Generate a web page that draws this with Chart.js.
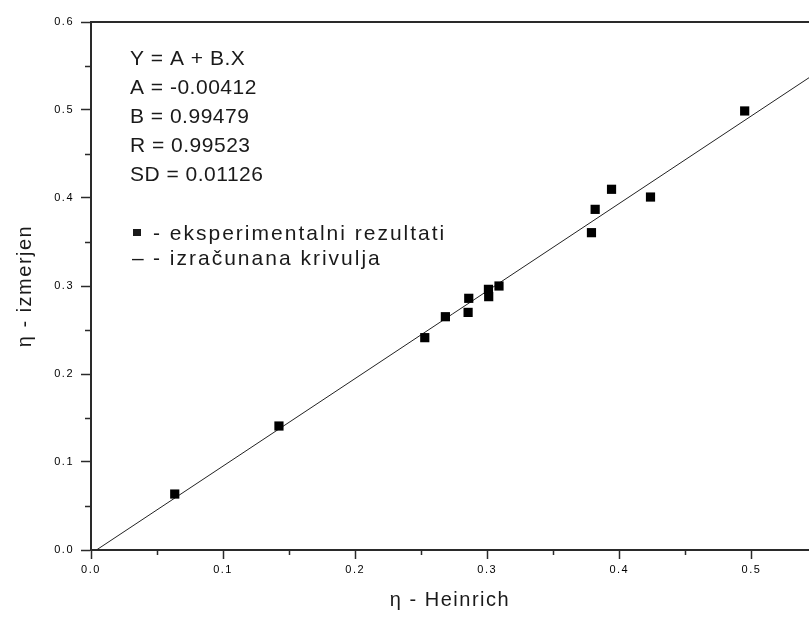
<!DOCTYPE html>
<html>
<head>
<meta charset="utf-8">
<script src="https://cdn.jsdelivr.net/npm/chart.js@4.4.1/dist/chart.umd.min.js"></script>
<style>
  body { margin: 0; background: #fff; }
  canvas { display: block; }
</style>
</head>
<body>
<canvas id="eta_graph" width="809" height="619"></canvas>
<script>
// measured points (eta Heinrich vs eta izmerjen)
var expX = [0.0634, 0.1423, 0.2527, 0.2683, 0.2855, 0.2860, 0.3009, 0.3011, 0.3089, 0.3789, 0.3817, 0.3941, 0.4236, 0.4949];
var expY = [0.0636, 0.1409, 0.2413, 0.2651, 0.2700, 0.2860, 0.2962, 0.2879, 0.3000, 0.3606, 0.3871, 0.4099, 0.4011, 0.4989];

// fitted line end points
var fitX = [0.0041, 0.5436];
var fitY = [0.0, 0.5367];

var xTicks = [0.0, 0.1, 0.2, 0.3, 0.4, 0.5];
var yTicks = [0.0, 0.1, 0.2, 0.3, 0.4, 0.5, 0.6];
var xMinor = [0.05, 0.15, 0.25, 0.35, 0.45];
var yMinor = [0.05, 0.15, 0.25, 0.35, 0.45, 0.55];

var fitText = ['Y = A + B.X', 'A = -0.00412', 'B = 0.99479', 'R = 0.99523', 'SD = 0.01126'];
var legendText = ['- eksperimentalni rezultati', '- izračunana krivulja'];

var axisColor = '#2a2a2a';
var tickFont = { family: 'Liberation Sans', size: 11 };
var titleFont = { family: 'Liberation Sans', size: 20 };

var expPoints = [];
for (var i in expX) {
  expPoints.push({ x: expX[i], y: expY[i] });
}
var fitPoints = [];
for (var j in fitX) {
  fitPoints.push({ x: fitX[j], y: fitY[j] });
}

// top frame line, minor ticks and the fit text box
var extras = {
  id: 'extras',
  beforeDraw: function(chart) {
    chart.ctx.letterSpacing = '1.5px';
  },
  afterDraw: function(chart) {
    var ctx = chart.ctx;
    var area = chart.chartArea;
    var xs = chart.scales.x;
    var ys = chart.scales.y;
    ctx.save();
    ctx.strokeStyle = axisColor;
    ctx.lineWidth = 2;
    ctx.beginPath();
    ctx.moveTo(area.left, area.top);
    ctx.lineTo(area.right, area.top);
    ctx.stroke();

    ctx.lineWidth = 1.5;
    ctx.beginPath();
    xMinor.forEach(function(v) {
      var px = Math.round(xs.getPixelForValue(v)) + 0.5;
      ctx.moveTo(px, area.bottom);
      ctx.lineTo(px, area.bottom + 5);
    });
    yMinor.forEach(function(v) {
      var py = Math.round(ys.getPixelForValue(v)) + 0.5;
      ctx.moveTo(area.left, py);
      ctx.lineTo(area.left - 6, py);
    });
    ctx.stroke();

    ctx.fillStyle = '#1a1a1a';
    ctx.font = '21px "Liberation Sans"';
    ctx.textBaseline = 'alphabetic';
    ctx.textAlign = 'left';
    ctx.letterSpacing = '0.5px';
    for (var k = 0; k < fitText.length; k++) {
      ctx.fillText(fitText[k], 130, 65 + k * 29);
    }
    ctx.fillRect(133, 229, 8, 7);
    ctx.fillText('–', 132, 265);
    ctx.letterSpacing = '2px';
    ctx.fillText(legendText[0], 153, 240);
    ctx.fillText(legendText[1], 153, 265);
    ctx.restore();
    ctx.letterSpacing = '0px';
  }
};

var ctx = document.getElementById('eta_graph');

var etaGraph = new Chart(ctx, {
  type: 'scatter',
  data: {
    datasets: [
      {
        label: 'eksperimentalni rezultati',
        data: expPoints,
        pointStyle: 'rect',
        pointRadius: 6.5,
        pointHoverRadius: 6.5,
        backgroundColor: '#000',
        borderColor: '#000',
        borderWidth: 0,
        order: 0
      },
      {
        label: 'izračunana krivulja',
        type: 'line',
        data: fitPoints,
        showLine: true,
        fill: false,
        pointRadius: 0,
        borderColor: '#222',
        borderWidth: 1,
        order: 1
      }
    ]
  },
  options: {
    responsive: false,
    animation: false,
    layout: { autoPadding: false, padding: { top: 22, right: 0, bottom: 0, left: 0 } },
    plugins: {
      legend: { display: false },
      tooltip: { enabled: false }
    },
    scales: {
      x: {
        type: 'linear',
        min: 0,
        max: 0.5436,
        afterBuildTicks: function(scale) {
          scale.ticks = xTicks.map(function(v) { return { value: v }; });
        },
        afterFit: function(scale) {
          scale.height = 69;
          scale.paddingRight = 0;
          scale.paddingLeft = 0;
        },
        grid: { drawOnChartArea: false, drawTicks: true, tickLength: 9, tickColor: axisColor, tickWidth: 1.5 },
        border: { display: true, color: axisColor, width: 2 },
        ticks: {
          color: '#000',
          font: tickFont,
          padding: 4,
          maxRotation: 0,
          callback: function(v) { return v.toFixed(1); }
        },
        title: {
          display: true,
          text: 'η - Heinrich',
          color: '#1a1a1a',
          font: titleFont,
          padding: { top: 0, bottom: 7 }
        }
      },
      y: {
        type: 'linear',
        min: 0,
        max: 0.6,
        afterBuildTicks: function(scale) {
          scale.ticks = yTicks.map(function(v) { return { value: v }; });
        },
        afterFit: function(scale) { scale.width = 91; },
        grid: { drawOnChartArea: false, drawTicks: true, tickLength: 10, tickColor: axisColor, tickWidth: 1.5 },
        border: { display: true, color: axisColor, width: 2 },
        ticks: {
          color: '#000',
          font: tickFont,
          padding: 7,
          callback: function(v) { return v.toFixed(1); }
        },
        title: {
          display: true,
          text: 'η - izmerjen',
          color: '#1a1a1a',
          font: titleFont,
          padding: { top: 13, bottom: 0 }
        }
      }
    }
  },
  plugins: [extras]
});
</script>
</body>
</html>
